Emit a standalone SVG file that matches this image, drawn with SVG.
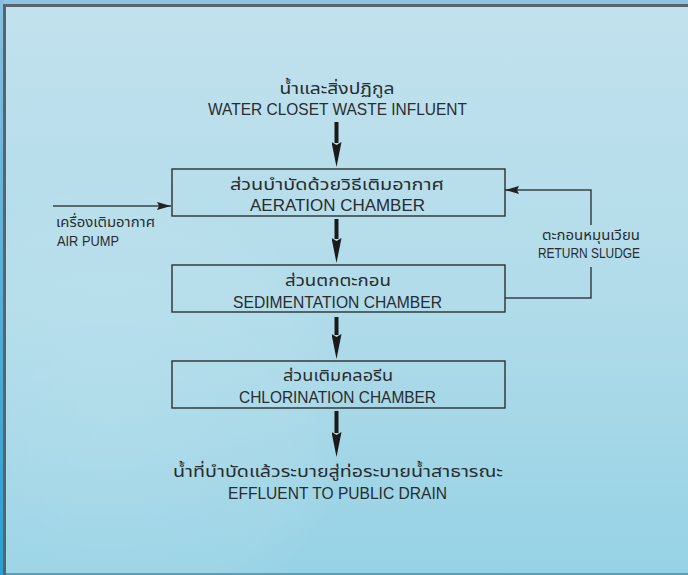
<svg xmlns="http://www.w3.org/2000/svg" width="688" height="575" viewBox="0 0 688 575">
<defs>
<linearGradient id="bg" x1="0" y1="0" x2="0" y2="1">
<stop offset="0" stop-color="#c1e1ed"/>
<stop offset="0.5" stop-color="#b2dcea"/>
<stop offset="1" stop-color="#96d2e5"/>
</linearGradient>
<radialGradient id="glow" cx="110" cy="420" r="240" gradientUnits="userSpaceOnUse">
<stop offset="0" stop-color="#ffffff" stop-opacity="0.12"/>
<stop offset="0.8" stop-color="#ffffff" stop-opacity="0.06"/>
<stop offset="1" stop-color="#ffffff" stop-opacity="0"/>
</radialGradient>
<linearGradient id="leftEdge" x1="0" y1="0" x2="0" y2="1">
<stop offset="0" stop-color="#86c0e0"/>
<stop offset="1" stop-color="#2a9fd2"/>
</linearGradient>
<marker id="bigHead" markerWidth="25" markerHeight="10" refX="1" refY="5" orient="auto" markerUnits="userSpaceOnUse" viewBox="0 0 25 10">
<path d="M0,0 L25,5 L0,10 L3,5 Z" fill="#1a1a1a"/>
</marker>
<marker id="smallHead" markerWidth="14" markerHeight="8" refX="14" refY="4" orient="auto" markerUnits="userSpaceOnUse" viewBox="0 0 14 8">
<path d="M0,0 L14,4 L0,8 L2,4 Z" fill="#222"/>
</marker>
</defs>
<style>
.box{fill:none;stroke:#2b2f33;stroke-width:1.4}
.th{font-family:"Noto Sans Thai","Noto Sans","DejaVu Sans",sans-serif;fill:#2a2c2e}
.en{font-family:"Liberation Sans",Arial,sans-serif;fill:#2a2c2e}
.big{stroke:#1a1a1a;stroke-width:4;fill:none}
.thin{stroke:#3a4046;stroke-width:1.5;fill:none}
</style>
<rect x="0" y="0" width="688" height="575" fill="#8ec4e2"/>
<rect x="0" y="0" width="4" height="575" fill="url(#leftEdge)"/>
<rect x="3" y="4" width="685" height="571" fill="#56646e"/>
<rect x="6" y="7" width="682" height="567" fill="url(#bg)"/>
<rect x="6" y="7" width="682" height="567" fill="url(#glow)"/>
<rect x="6" y="573" width="682" height="2" fill="#5f9db2"/>

<g id="connectors">
<line class="big" x1="336.5" y1="122" x2="336.5" y2="143" marker-end="url(#bigHead)"/>
<line class="big" x1="336.5" y1="219" x2="336.5" y2="239" marker-end="url(#bigHead)"/>
<line class="big" x1="336.5" y1="317" x2="336.5" y2="335" marker-end="url(#bigHead)"/>
<line class="big" x1="336.5" y1="411" x2="336.5" y2="433" marker-end="url(#bigHead)"/>
<line class="thin" x1="53" y1="206" x2="171" y2="206" marker-end="url(#smallHead)"/>
<polyline class="thin" points="505,298 591,298 591,267"/>
<polyline class="thin" points="591,225 591,190 505,190" marker-end="url(#smallHead)"/>
</g>

<g id="influent">
<text class="th" x="337" y="94" font-size="16" text-anchor="middle" textLength="115" lengthAdjust="spacingAndGlyphs">น้ำและสิ่งปฏิกูล</text>
<text class="en" x="337.5" y="115" font-size="17" text-anchor="middle" textLength="259" lengthAdjust="spacingAndGlyphs">WATER CLOSET WASTE INFLUENT</text>
</g>

<g id="aeration">
<rect class="box" x="172" y="169" width="333" height="47"/>
<text class="th" x="337" y="190" font-size="16" text-anchor="middle" textLength="214" lengthAdjust="spacingAndGlyphs">ส่วนบำบัดด้วยวิธีเติมอากาศ</text>
<text class="en" x="337.5" y="211" font-size="17" text-anchor="middle" textLength="175" lengthAdjust="spacingAndGlyphs">AERATION CHAMBER</text>
</g>

<g id="sedimentation">
<rect class="box" x="172" y="265" width="333" height="47"/>
<text class="th" x="338" y="286" font-size="16" text-anchor="middle" textLength="106" lengthAdjust="spacingAndGlyphs">ส่วนตกตะกอน</text>
<text class="en" x="337.5" y="308" font-size="17" text-anchor="middle" textLength="209" lengthAdjust="spacingAndGlyphs">SEDIMENTATION CHAMBER</text>
</g>

<g id="chlorination">
<rect class="box" x="172" y="361" width="333" height="47"/>
<text class="th" x="338" y="381" font-size="16" text-anchor="middle" textLength="110" lengthAdjust="spacingAndGlyphs">ส่วนเติมคลอรีน</text>
<text class="en" x="337.5" y="403" font-size="17" text-anchor="middle" textLength="197" lengthAdjust="spacingAndGlyphs">CHLORINATION CHAMBER</text>
</g>

<g id="effluent">
<text class="th" x="338" y="477" font-size="16" text-anchor="middle" textLength="330" lengthAdjust="spacingAndGlyphs">น้ำที่บำบัดแล้วระบายสู่ท่อระบายน้ำสาธารณะ</text>
<text class="en" x="337.5" y="499" font-size="17" text-anchor="middle" textLength="219" lengthAdjust="spacingAndGlyphs">EFFLUENT TO PUBLIC DRAIN</text>
</g>

<g id="air-pump">
<text class="th" x="56" y="227" font-size="14" textLength="99" lengthAdjust="spacingAndGlyphs">เครื่องเติมอากาศ</text>
<text class="en" x="57" y="246" font-size="14.5" textLength="62" lengthAdjust="spacingAndGlyphs">AIR PUMP</text>
</g>

<g id="return-sludge">
<text class="th" x="591" y="240" font-size="14" text-anchor="middle" textLength="98" lengthAdjust="spacingAndGlyphs">ตะกอนหมุนเวียน</text>
<text class="en" x="589" y="258" font-size="14.5" text-anchor="middle" textLength="102" lengthAdjust="spacingAndGlyphs">RETURN SLUDGE</text>
</g>
</svg>
